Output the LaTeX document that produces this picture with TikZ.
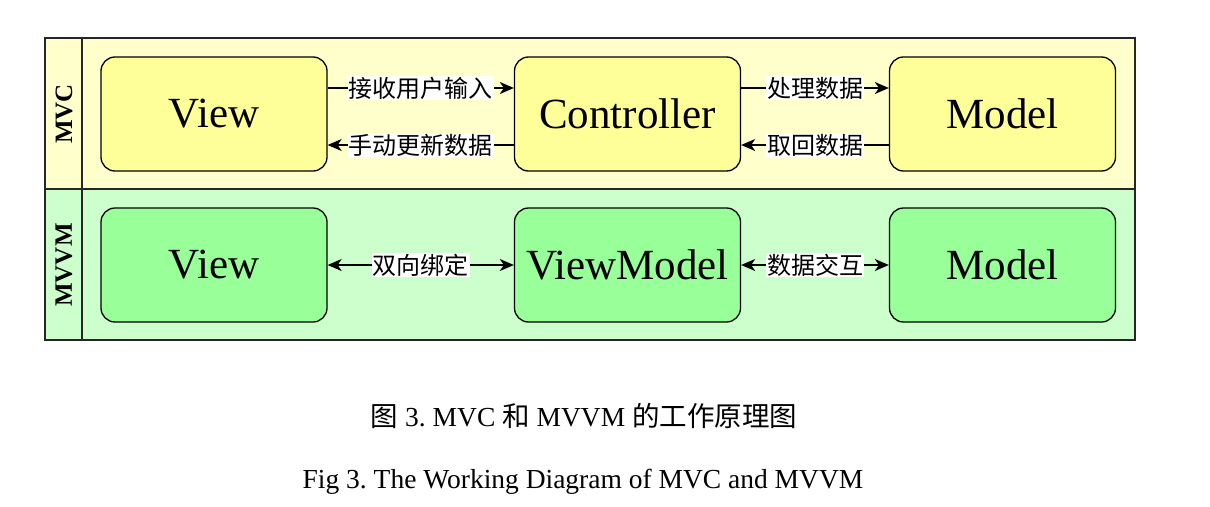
\documentclass[tikz,border=0pt]{standalone}
\usepackage{fontspec}
\setmainfont{Liberation Serif}
\newfontfamily\cjk{Noto Sans CJK SC}
\usetikzlibrary{arrows.meta, positioning}
\definecolor{mvcband}{HTML}{FFFFCC}
\definecolor{mvcbox}{HTML}{FFFF99}
\definecolor{mvvmband}{HTML}{CCFFCC}
\definecolor{mvvmbox}{HTML}{99FF99}
\frenchspacing

\begin{document}
\begin{tikzpicture}[x=1pt, y=-1pt, line width=1.3pt,
    > = {Stealth[length=14pt, width=12pt, inset=4pt]},
    box/.style={draw, rounded corners=14pt, minimum width=226pt, minimum height=114pt,
        font=\fontsize{43}{48}\selectfont},
    lbl/.style={fill=white, inner sep=1pt, font=\cjk\fontsize{24}{26}\selectfont},
    side/.style={rotate=90, font=\bfseries\fontsize{25}{28}\selectfont},
    caption/.style={font=\fontsize{27.5}{30}\selectfont}]
    \useasboundingbox (0,0) rectangle (1210,506);

    % bandas
    \fill [mvcband] (45,38) rectangle (1135,189);
    \fill [mvvmband] (45,189) rectangle (1135,340);
    \draw [black!85] (45,38) rectangle (1135,340);
    \draw [black!85] (45,189) -- (1135,189);
    \draw [black!85] (82,38) -- (82,340);
    \node [side] (mvc) at (64,114) {MVC};
    \node [side] (mvvm) at (64,265) {MVVM};

    % caixas MVC
    \node [box, fill=mvcbox] (view1) at (214,114) {View};
    \node [box, fill=mvcbox] (ctrl) at (627.5,114) {Controller};
    \node [box, fill=mvcbox] (model1) at (1002.5,114) {Model};

    % caixas MVVM
    \node [box, fill=mvvmbox] (view2) at (214,265) {View};
    \node [box, fill=mvvmbox] (vm) at (627.5,265) {ViewModel};
    \node [box, fill=mvvmbox] (model2) at (1002.5,265) {Model};

    % setas MVC
    \draw [->] ([yshift=26]view1.east) -- node [lbl] {接收用户输入} ([yshift=26]ctrl.west);
    \draw [<-] ([yshift=-31]view1.east) -- node [lbl] {手动更新数据} ([yshift=-31]ctrl.west);
    \draw [->] ([yshift=26]ctrl.east) -- node [lbl] {处理数据} ([yshift=26]model1.west);
    \draw [<-] ([yshift=-31]ctrl.east) -- node [lbl] {取回数据} ([yshift=-31]model1.west);

    % setas MVVM
    \draw [<->] (view2) -- node [lbl] {双向绑定} (vm);
    \draw [<->] (vm) -- node [lbl] {数据交互} (model2);

    % legendas
    \node [caption] (cap1) at (584,416) {{\cjk 图} 3. MVC {\cjk 和} MVVM {\cjk 的工作原理图}};
    \node [caption] (cap2) at (583,482) {Fig 3. The Working Diagram of MVC and MVVM};
\end{tikzpicture}
\end{document}
